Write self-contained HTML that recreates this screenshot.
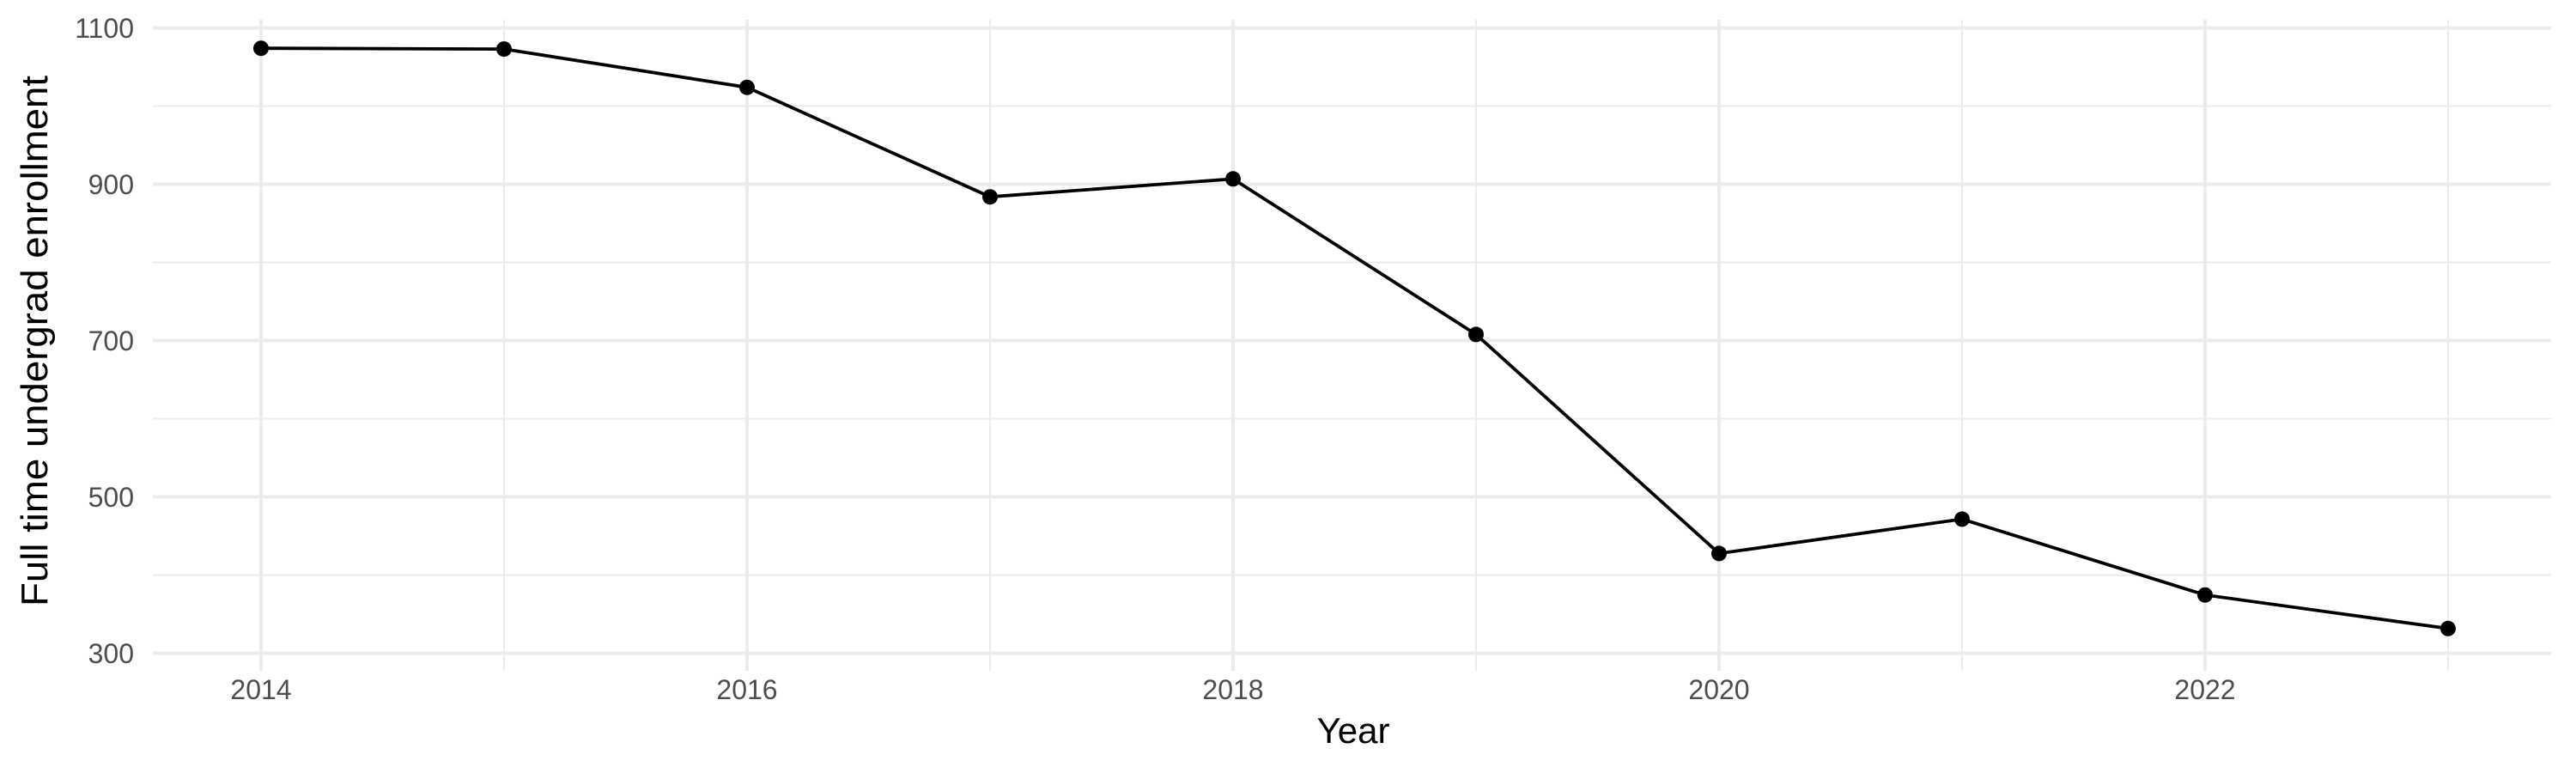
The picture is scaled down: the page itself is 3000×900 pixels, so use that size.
<!DOCTYPE html>
<html><head><meta charset="utf-8"><style>body{margin:0;background:#fff}svg{display:block}</style></head><body>
<svg width="3000" height="900" xmlns="http://www.w3.org/2000/svg" font-family="Liberation Sans, sans-serif">
<g stroke="#ebebeb">
<g stroke-width="2">
<line x1="178" x2="2971" y1="123.5" y2="123.5"/><line x1="178" x2="2971" y1="305.5" y2="305.5"/><line x1="178" x2="2971" y1="487.5" y2="487.5"/><line x1="178" x2="2971" y1="669.5" y2="669.5"/>
<line x1="587" x2="587" y1="23" y2="781"/><line x1="1153" x2="1153" y1="23" y2="781"/><line x1="1719" x2="1719" y1="23" y2="781"/><line x1="2285" x2="2285" y1="23" y2="781"/><line x1="2851" x2="2851" y1="23" y2="781"/>
</g>
<g stroke-width="4">
<line x1="178" x2="2971" y1="32.5" y2="32.5"/><line x1="178" x2="2971" y1="214.5" y2="214.5"/><line x1="178" x2="2971" y1="396.5" y2="396.5"/><line x1="178" x2="2971" y1="578.5" y2="578.5"/><line x1="178" x2="2971" y1="760.5" y2="760.5"/>
<line x1="304" x2="304" y1="23" y2="781"/><line x1="870" x2="870" y1="23" y2="781"/><line x1="1436" x2="1436" y1="23" y2="781"/><line x1="2002" x2="2002" y1="23" y2="781"/><line x1="2568" x2="2568" y1="23" y2="781"/>
</g></g>
<polyline fill="none" stroke="#000" stroke-width="3.8" points="304,56.2 587,57.1 870,101.7 1153,229.2 1436,208.3 1719,389.4 2002,644.4 2285,604.4 2568,692.7 2851,731.8"/>
<g fill="#000"><circle cx="304" cy="56.2" r="9"/><circle cx="587" cy="57.1" r="9"/><circle cx="870" cy="101.7" r="9"/><circle cx="1153" cy="229.2" r="9"/><circle cx="1436" cy="208.3" r="9"/><circle cx="1719" cy="389.4" r="9"/><circle cx="2002" cy="644.4" r="9"/><circle cx="2285" cy="604.4" r="9"/><circle cx="2568" cy="692.7" r="9"/><circle cx="2851" cy="731.8" r="9"/></g>
<g fill="#4d4d4d" font-size="32" text-anchor="end">
<text x="156" y="44">1100</text><text x="156" y="226">900</text><text x="156" y="408">700</text><text x="156" y="590">500</text><text x="156" y="772">300</text>
</g>
<g fill="#4d4d4d" font-size="32" text-anchor="middle">
<text x="304" y="814">2014</text><text x="870" y="814">2016</text><text x="1436" y="814">2018</text><text x="2002" y="814">2020</text><text x="2568" y="814">2022</text>
</g>
<text x="1576" y="865" font-size="42" text-anchor="middle">Year</text>
<text transform="translate(55,397) rotate(-90)" font-size="44" text-anchor="middle" textLength="618" lengthAdjust="spacingAndGlyphs">Full time undergrad enrollment</text>
</svg>
</body></html>
